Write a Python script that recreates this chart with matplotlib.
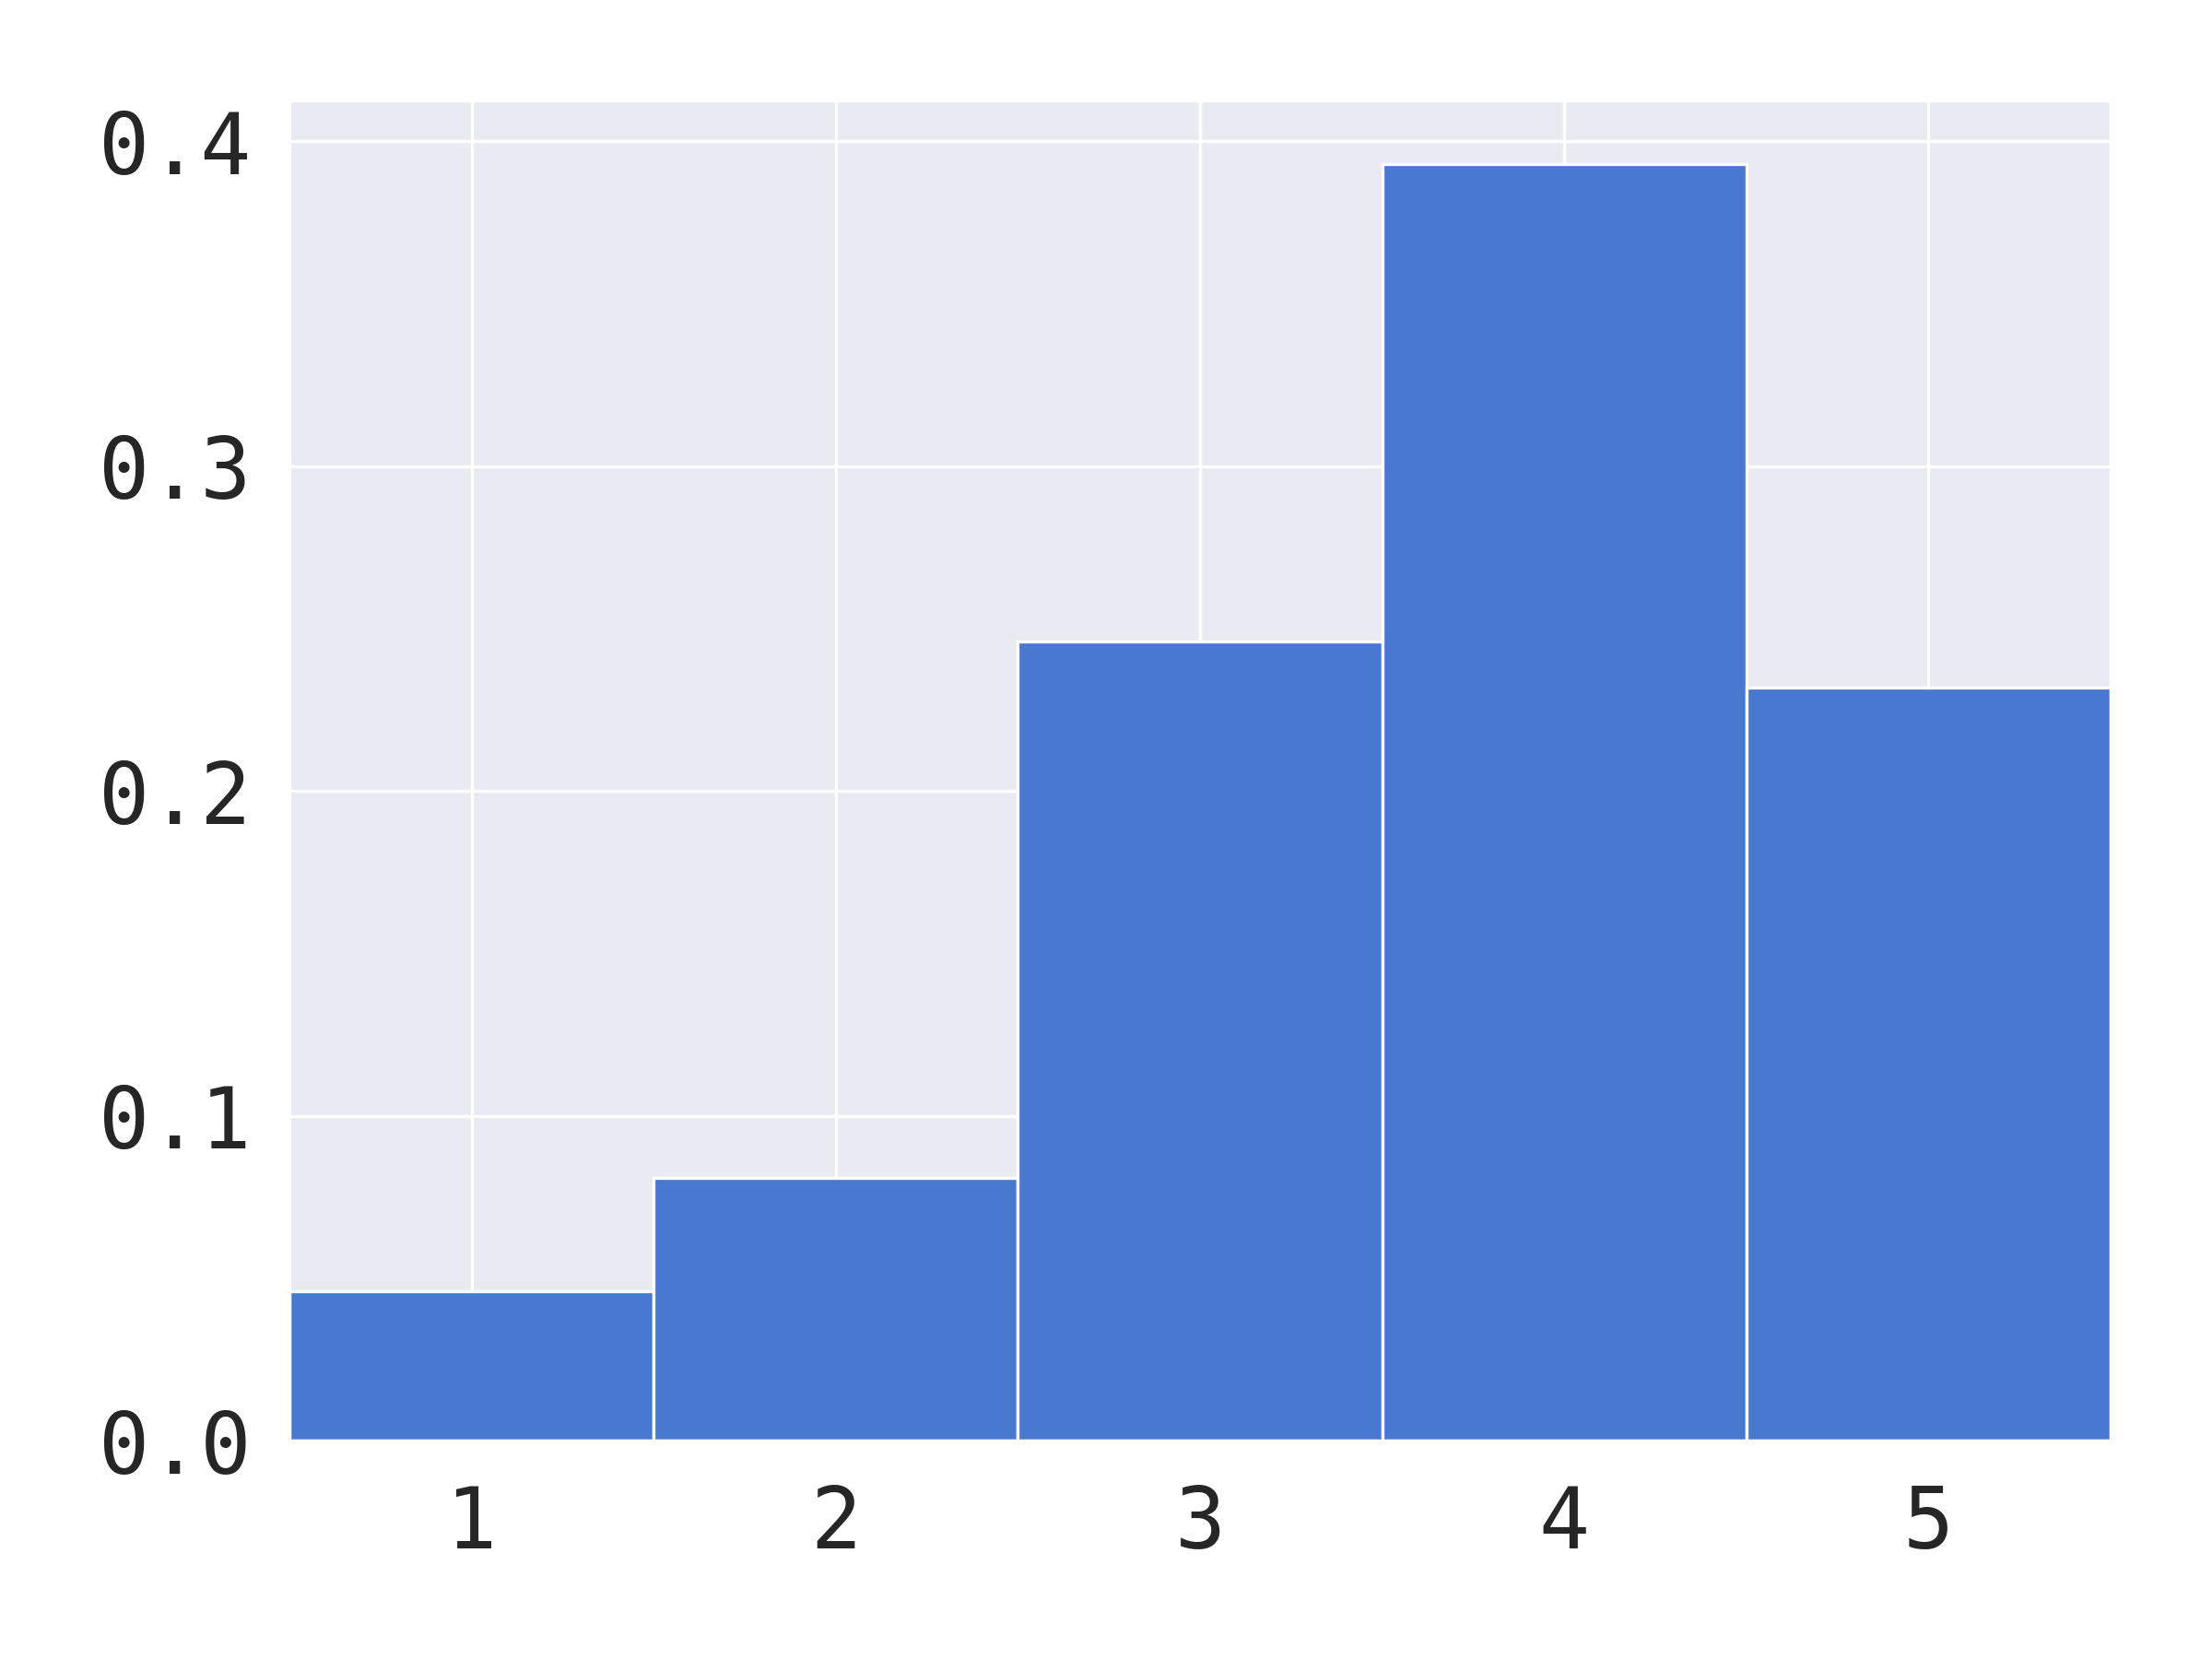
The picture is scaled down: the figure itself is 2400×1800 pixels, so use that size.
import matplotlib
matplotlib.use('Agg')
import matplotlib.pyplot as plt
import seaborn as sns

# dados do histograma (densidade por categoria)
categorias = [1, 2, 3, 4, 5]
densidade = [0.046, 0.081, 0.246, 0.393, 0.232]

sns.set_style('darkgrid')
plt.rcParams['font.family'] = ['DejaVu Sans Mono']

fig, ax = plt.subplots(figsize=(8, 6), dpi=300)
fig.subplots_adjust(left=0.131, right=0.954, top=0.9395, bottom=0.1315)

ax.bar(categorias, densidade, width=1.0, color='#4878d0',
       edgecolor='white', linewidth=0.8)

ax.set_xlim(0.5, 5.5)
ax.set_xticks(categorias)
ax.set_yticks([0.0, 0.1, 0.2, 0.3, 0.4])
ax.grid(linewidth=0.8)
ax.tick_params(axis='both', labelsize=22, colors='#262626')
ax.tick_params(axis='y', pad=6.5)
ax.tick_params(axis='x', pad=7.5)

fig.savefig('out.png', dpi=300)
